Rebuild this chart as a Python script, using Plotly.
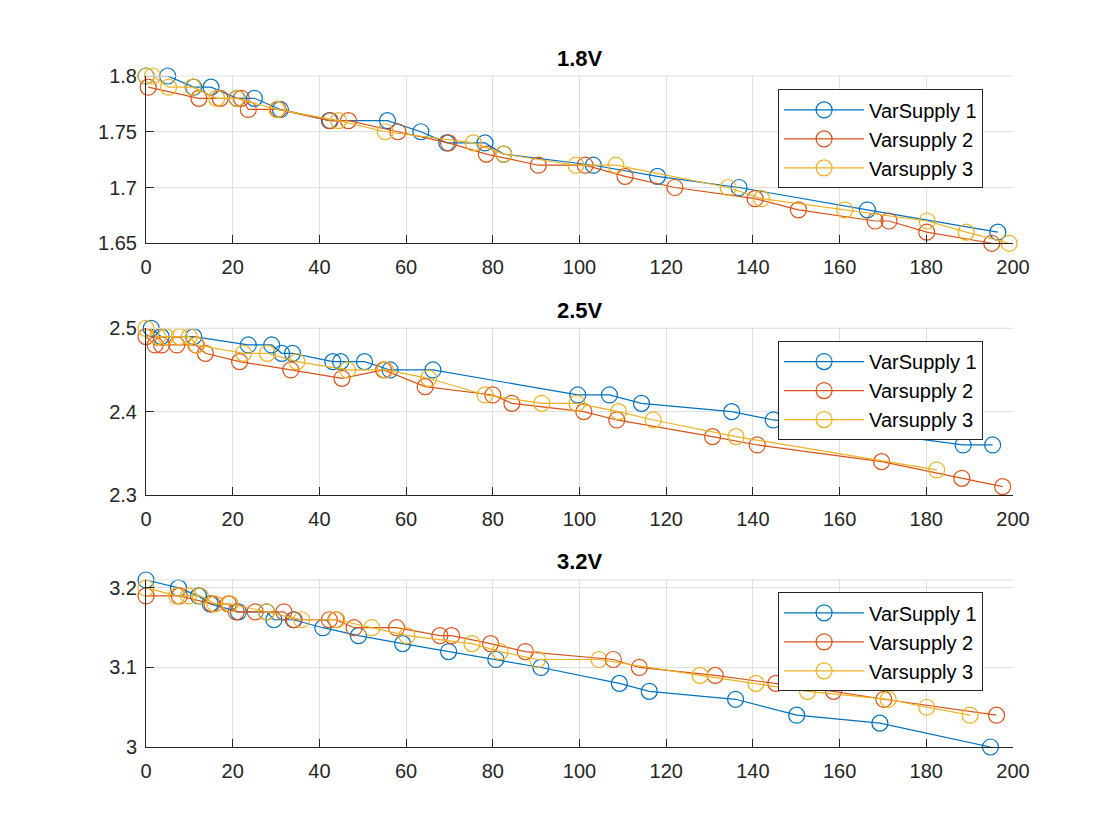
import plotly.graph_objects as go
from plotly.subplots import make_subplots

# time axis + voltage for each supply
x18_1 = [0, 5, 11, 15, 21, 25, 31, 42.3, 55.7, 63.4, 69.4, 78.2, 82.5, 103.2, 118, 136.8, 166.4, 196.5]
y18_1 = [1.80, 1.80, 1.79, 1.79, 1.78, 1.78, 1.77, 1.76, 1.76, 1.75, 1.74, 1.74, 1.73, 1.72, 1.71, 1.70, 1.68, 1.66]
x18_2 = [0.5, 12.2, 17.1, 22, 23.6, 30.5, 42.5, 46.7, 58.1, 69.8, 78.5, 90.5, 101.3, 110.5, 122, 140.5, 150.5, 168.2, 171.4, 180.1, 195.1]
y18_2 = [1.79, 1.78, 1.78, 1.78, 1.77, 1.77, 1.76, 1.76, 1.75, 1.74, 1.73, 1.72, 1.72, 1.71, 1.70, 1.69, 1.68, 1.67, 1.67, 1.66, 1.65]
x18_3 = [0, 1.5, 5.2, 10.8, 16.3, 20.9, 30.2, 44.4, 55.2, 75.5, 82.5, 99.2, 108.4, 134.3, 142, 161.2, 180.2, 189.2, 199.1]
y18_3 = [1.80, 1.80, 1.79, 1.79, 1.78, 1.78, 1.77, 1.76, 1.75, 1.74, 1.73, 1.72, 1.72, 1.70, 1.69, 1.68, 1.67, 1.66, 1.65]

x25_1 = [1.2, 3.5, 11, 23.6, 29, 31.3, 33.8, 43.1, 44.9, 50.4, 56.3, 66.2, 99.6, 106.9, 114.3, 135.1, 144.7, 188.5, 195.3]
y25_1 = [2.50, 2.49, 2.49, 2.48, 2.48, 2.47, 2.47, 2.46, 2.46, 2.46, 2.45, 2.45, 2.42, 2.42, 2.41, 2.40, 2.39, 2.36, 2.36]
x25_2 = [0, 2.1, 3.6, 7.1, 11.5, 13.7, 21.6, 33.4, 45.2, 54.8, 64.4, 80, 84.4, 101, 108.6, 130.7, 141, 169.7, 188.2, 197.6]
y25_2 = [2.49, 2.48, 2.48, 2.48, 2.48, 2.47, 2.46, 2.45, 2.44, 2.45, 2.43, 2.42, 2.41, 2.40, 2.39, 2.37, 2.36, 2.34, 2.32, 2.31]
x25_3 = [0, 2.7, 4.6, 7.7, 10, 11.7, 22.5, 28, 34.8, 46.5, 55.2, 65.2, 78.2, 91.3, 99.4, 109, 117, 136.1, 182.4]
y25_3 = [2.50, 2.49, 2.49, 2.49, 2.49, 2.48, 2.47, 2.47, 2.46, 2.45, 2.45, 2.44, 2.42, 2.41, 2.41, 2.40, 2.39, 2.37, 2.33]

x32_1 = [0, 7.5, 12.1, 14.8, 21.3, 27.8, 29.5, 34, 40.8, 49, 59.2, 69.8, 80.7, 91.1, 109.2, 116.1, 136, 150.1, 169.3, 194.8]
y32_1 = [3.21, 3.20, 3.19, 3.18, 3.17, 3.17, 3.16, 3.16, 3.15, 3.14, 3.13, 3.12, 3.11, 3.10, 3.08, 3.07, 3.06, 3.04, 3.03, 3.00]
x32_2 = [0, 7.7, 15.2, 19, 20.8, 25.2, 31.8, 34.2, 42.3, 43.8, 48, 57.8, 67.8, 70.5, 79.5, 87.5, 107.8, 113.8, 131.3, 145.3, 158.6, 170.2, 196.2]
y32_2 = [3.19, 3.19, 3.18, 3.18, 3.17, 3.17, 3.17, 3.16, 3.16, 3.16, 3.15, 3.15, 3.14, 3.14, 3.13, 3.12, 3.11, 3.10, 3.09, 3.08, 3.07, 3.06, 3.04]
x32_3 = [0, 7.1, 9.8, 12.5, 15.9, 19.4, 27.8, 35.9, 44, 52.1, 60.2, 75.2, 81.7, 90.3, 104.5, 127.8, 140.7, 152.6, 171.2, 180.1, 190.1]
y32_3 = [3.20, 3.19, 3.19, 3.19, 3.18, 3.18, 3.17, 3.16, 3.16, 3.15, 3.14, 3.13, 3.12, 3.11, 3.11, 3.09, 3.08, 3.07, 3.06, 3.05, 3.04]

names = ["VarSupply 1", "Varsupply 2", "Varsupply 3"]
titles = ["1.8V", "2.5V", "3.2V"]
colors = ["#0072BD", "#D95319", "#EDB120"]
yranges = [[1.65, 1.8], [2.3, 2.5], [3.0, 3.21]]
yticks = [[1.65, 1.7, 1.75, 1.8], [2.3, 2.4, 2.5], [3.0, 3.1, 3.2]]
yticktext = [["1.65", "1.7", "1.75", "1.8"], ["2.3", "2.4", "2.5"], ["3", "3.1", "3.2"]]

panels = [
    [(x18_1, y18_1), (x18_2, y18_2), (x18_3, y18_3)],
    [(x25_1, y25_1), (x25_2, y25_2), (x25_3, y25_3)],
    [(x32_1, y32_1), (x32_2, y32_2), (x32_3, y32_3)],
]

fig = make_subplots(rows=3, cols=1)

legs = ["legend", "legend2", "legend3"]
for r, series in enumerate(panels):
    for k, (xs, ys) in enumerate(series):
        fig.add_trace(go.Scatter(
            x=xs, y=ys, mode="lines+markers", name=names[k],
            line=dict(color=colors[k], width=1.2),
            marker=dict(symbol="circle-open", size=16, color=colors[k], line=dict(width=1.2)),
            cliponaxis=False, legend=legs[r]), row=r + 1, col=1)

domains = [[0.7507, 1.0], [0.3756, 0.624], [0.0, 0.2489]]
leg_y = [0.980, 0.605, 0.2305]
font = dict(family="Liberation Sans, Arial, sans-serif", size=20, color="#262626")

for r in range(3):
    ax = "" if r == 0 else str(r + 1)
    fig.layout["xaxis" + ax].update(
        range=[0, 200], tickvals=list(range(0, 201, 20)), ticks="inside", ticklen=8,
        tickcolor="#262626", showline=True, linecolor="#262626", linewidth=1,
        showgrid=True, gridcolor="#dfdfdf", zeroline=False, tickfont=font,
        ticklabelstandoff=6)
    fig.layout["yaxis" + ax].update(
        domain=domains[r], range=yranges[r], tickvals=yticks[r], ticktext=yticktext[r],
        ticks="inside", ticklen=8, tickcolor="#262626", showline=True,
        linecolor="#262626", linewidth=1, showgrid=True, gridcolor="#dfdfdf",
        zeroline=False, tickfont=font, ticklabelstandoff=4)
    # light box edge on top
    fig.add_shape(type="line", xref="x" + ax + " domain", yref="y" + ax + " domain",
                  x0=0, x1=1, y0=1, y1=1, line=dict(color="#dfdfdf", width=1))
    fig.add_annotation(text="<b>" + titles[r] + "</b>", xref="paper", yref="paper",
                       x=0.5, y=domains[r][1], yanchor="middle", yshift=18,
                       showarrow=False, font=dict(family=font["family"], size=22, color="black"))
    fig.layout[legs[r]] = dict(
        x=0.9655, y=leg_y[r], xanchor="right", yanchor="top", bgcolor="white",
        bordercolor="#262626", borderwidth=1, font=dict(family=font["family"], size=20, color="black"),
        itemwidth=80, tracegroupgap=0)

fig.update_layout(width=1120, height=840, plot_bgcolor="white", paper_bgcolor="white",
                  margin=dict(l=138, r=115, t=68, b=101), showlegend=True)

fig.write_html("out.html")
